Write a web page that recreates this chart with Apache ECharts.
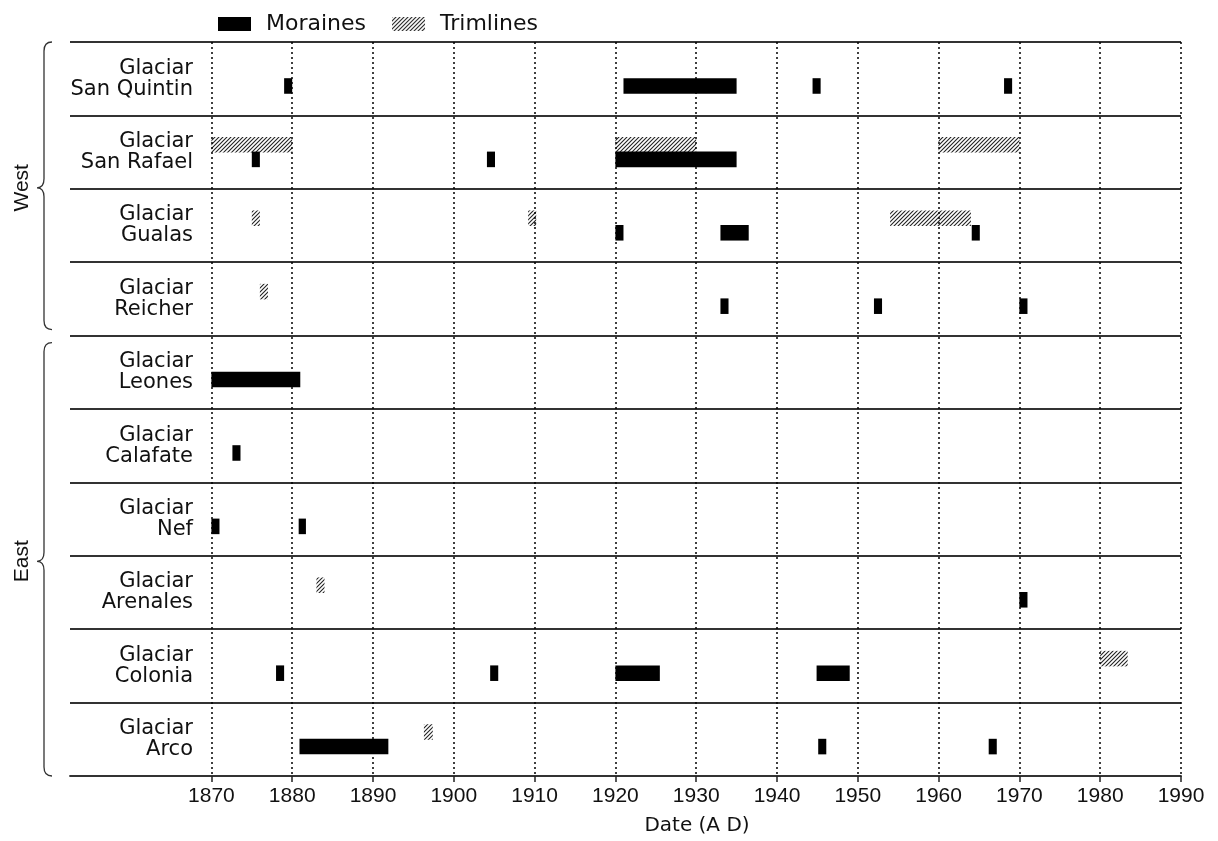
<!DOCTYPE html>
<html>
<head>
<meta charset="utf-8">
<script src="https://cdn.jsdelivr.net/npm/echarts@6/dist/echarts.min.js"></script>
<style>
html,body{margin:0;padding:0;background:#fff;}
#chart{width:1218px;height:841px;}
</style>
</head>
<body>
<div id="chart"></div>
<script>
// ---- data ----
const glaciers = ['San Quintin','San Rafael','Gualas','Reicher','Leones','Calafate','Nef','Arenales','Colonia','Arco'];
const tickYears = [1870,1880,1890,1900,1910,1920,1930,1940,1950,1960,1970,1980,1990];
// [glacier index, start year, end year]
const moraines = [
  [0,1879,1880],[0,1921,1935],[0,1944.4,1945.4],[0,1968.1,1969.1],
  [1,1875,1876],[1,1904.1,1905.1],[1,1920,1935],
  [2,1920,1921],[2,1933,1936.5],[2,1964.1,1965.1],
  [3,1933,1934],[3,1952,1953],[3,1970,1971],
  [4,1870,1881],
  [5,1872.6,1873.6],
  [6,1870,1871],[6,1880.8,1881.7],
  [7,1970,1971],
  [8,1878,1879],[8,1904.5,1905.5],[8,1920,1925.5],[8,1944.9,1949],
  [9,1880.9,1891.9],[9,1945.1,1946.1],[9,1966.2,1967.2]
];
const trimlines = [
  [1,1870,1880],[1,1920,1930],[1,1960,1970],
  [2,1875,1876],[2,1909.2,1910.2],[2,1954,1964],
  [3,1876,1877],
  [7,1883,1884],
  [8,1980,1983.4],
  [9,1896.3,1897.4]
];
const groupNames = ['West','East'];
const groupRanges = [[0,3],[4,9]];
const xMin = 1852.5, xMax = 1990;

// ---- hatch pattern ----
function makeHatch() {
  const c = document.createElement('canvas');
  c.width = 4; c.height = 4;
  const ctx = c.getContext('2d');
  ctx.strokeStyle = '#222';
  ctx.lineWidth = 1.1;
  ctx.beginPath();
  ctx.moveTo(0,4); ctx.lineTo(4,0);
  ctx.moveTo(-1,1); ctx.lineTo(1,-1);
  ctx.moveTo(3,5); ctx.lineTo(5,3);
  ctx.stroke();
  return {image: c, repeat: 'repeat'};
}
const hatch = makeHatch();
const FONT = '"Liberation Sans", Arial, Helvetica, sans-serif';
const WIDE = '"DejaVu Sans", "Liberation Sans", sans-serif';

function renderRange(kind) {
  return function (params, api) {
    const cat = api.value(0);
    const p0 = api.coord([api.value(1), cat]);
    const p1 = api.coord([api.value(2), cat]);
    const band = api.size([0, 1])[1];
    const h = band * 0.212;
    const y = kind === 'm' ? p0[1] - 0.5 : p0[1] - h + 0.5;
    return {
      type: 'rect',
      shape: {x: p0[0], y: y, width: p1[0] - p0[0], height: h},
      style: kind === 'm' ? {fill: '#000'} : {fill: hatch}
    };
  };
}

function renderBrace(params, api) {
  const i = params.dataIndex;
  const s = api.value(0), e = api.value(1);
  const half = api.size([0, 1])[1] / 2;
  const L = params.coordSys.x;
  let top = api.coord([xMin, s])[1] - half;
  let bot = api.coord([xMin, e])[1] + half;
  if (s > 0) top += 7;
  if (e < glaciers.length - 1) bot -= 6;
  const mid = (top + bot) / 2 + 2;
  const xv = L - 26, xe = L - 18, xt = L - 33, r = 9;
  const d = 'M' + xe + ',' + top + ' Q' + xv + ',' + top + ' ' + xv + ',' + (top + r) +
    ' L' + xv + ',' + (mid - r) + ' Q' + xv + ',' + mid + ' ' + xt + ',' + mid +
    ' Q' + xv + ',' + mid + ' ' + xv + ',' + (mid + r) +
    ' L' + xv + ',' + (bot - r) + ' Q' + xv + ',' + bot + ' ' + xe + ',' + bot;
  return {
    type: 'group',
    children: [
      {type: 'path', shape: {pathData: d}, style: {fill: 'none', stroke: '#333', lineWidth: 1.3}},
      {type: 'text', x: L - 48, y: mid, rotation: Math.PI / 2,
       style: {text: groupNames[i], font: '21px ' + FONT, fill: '#111', align: 'center', verticalAlign: 'middle'}}
    ]
  };
}

const chart = echarts.init(document.getElementById('chart'), null, {renderer: 'canvas'});
chart.setOption({
  animation: false,
  backgroundColor: '#fff',
  textStyle: {fontFamily: FONT},
  legend: {
    left: 213, top: 8,
    itemWidth: 33, itemHeight: 14, itemGap: 26,
    textStyle: {fontSize: 22, fontFamily: WIDE, color: '#111', padding: [0, 0, 0, 10]},
    data: [{name: 'Moraines', icon: 'rect'}, {name: 'Trimlines', icon: 'rect'}],
    selectedMode: false
  },
  grid: {left: 70, right: 37, top: 42, bottom: 63, containLabel: false},
  xAxis: {
    type: 'value', min: xMin, max: xMax,
    axisLine: {show: true, lineStyle: {color: '#333', width: 1.8}},
    axisTick: {show: true, customValues: tickYears, length: 6, lineStyle: {color: '#222', width: 1.5}},
    axisLabel: {customValues: tickYears, fontSize: 21, margin: 10, color: '#111', formatter: function (v) { return String(v); }},
    splitLine: {show: false},
    name: 'Date (A D)', nameLocation: 'middle', nameGap: 40,
    nameTextStyle: {fontSize: 20, fontFamily: WIDE, color: '#111', padding: [0, 0, 0, 143]}
  },
  yAxis: {
    type: 'category', data: glaciers, inverse: true,
    axisLine: {show: false}, axisTick: {show: false},
    splitLine: {show: true, interval: 0, lineStyle: {color: '#333', width: 1.8}},
    axisLabel: {inside: true, interval: 0, align: 'right', margin: 123, fontSize: 21, fontFamily: WIDE, lineHeight: 21, color: '#111',
      formatter: function (v) { return 'Glaciar\n' + v; }}
  },
  series: [
    {
      type: 'line', name: 'gridlines', data: [], z: 1, silent: true,
      markLine: {
        silent: true, symbol: ['none', 'none'], label: {show: false},
        lineStyle: {type: [2, 3], color: '#000', width: 1.5},
        emphasis: {disabled: true},
        data: tickYears.map(function (y) { return {xAxis: y}; })
      }
    },
    {
      type: 'custom', name: 'Trimlines', z: 3,
      itemStyle: {color: hatch},
      renderItem: renderRange('t'),
      encode: {x: [1, 2], y: 0},
      data: trimlines
    },
    {
      type: 'custom', name: 'Moraines', z: 4,
      itemStyle: {color: '#000'},
      renderItem: renderRange('m'),
      encode: {x: [1, 2], y: 0},
      data: moraines
    },
    {
      type: 'custom', name: 'braces', z: 2, clip: false, silent: true,
      renderItem: renderBrace,
      encode: {y: 0},
      data: groupRanges
    }
  ]
});
</script>
</body>
</html>
